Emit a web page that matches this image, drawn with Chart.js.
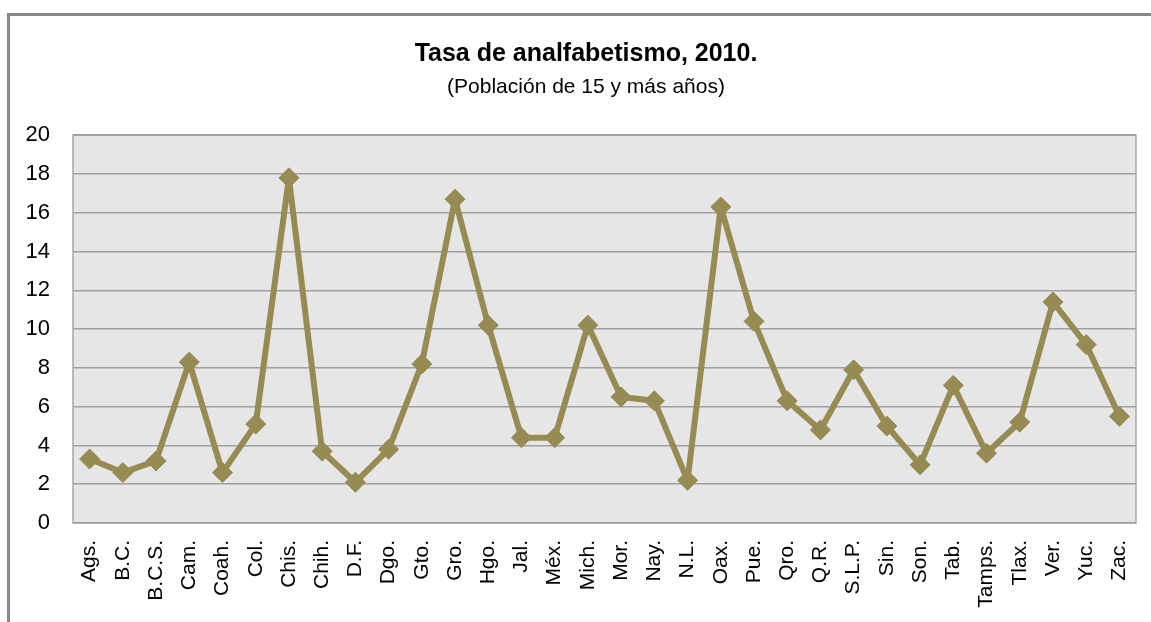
<!DOCTYPE html>
<html>
<head>
<meta charset="utf-8">
<script src="https://cdn.jsdelivr.net/npm/chart.js@4/dist/chart.umd.min.js"></script>
<style>
  html, body { margin: 0; padding: 0; background: #ffffff; }
  #wrap { position: relative; width: 1151px; height: 622px; overflow: hidden; }
  #frame { position: absolute; left: 7px; top: 13px; right: -10px; bottom: -10px;
           border-left: 3px solid #888888; border-top: 3px solid #888888; pointer-events: none; }
  canvas { position: absolute; left: 0; top: 0; }
</style>
</head>
<body>
<div id="wrap">
  <canvas id="c" width="1151" height="622"></canvas>
  <div id="frame"></div>
</div>
<script>
const titleText = 'Tasa de analfabetismo, 2010.';
const subtitleText = '(Población de 15 y más años)';
const categories = ['Ags.', 'B.C.', 'B.C.S.', 'Cam.', 'Coah.', 'Col.', 'Chis.', 'Chih.', 'D.F.', 'Dgo.',
  'Gto.', 'Gro.', 'Hgo.', 'Jal.', 'Méx.', 'Mich.', 'Mor.', 'Nay.', 'N.L.', 'Oax.', 'Pue.', 'Qro.',
  'Q.R.', 'S.L.P.', 'Sin.', 'Son.', 'Tab.', 'Tamps.', 'Tlax.', 'Ver.', 'Yuc.', 'Zac.'];
const tasa = [3.3, 2.6, 3.2, 8.3, 2.6, 5.1, 17.8, 3.7, 2.1, 3.8,
  8.2, 16.7, 10.2, 4.4, 4.4, 10.2, 6.5, 6.3, 2.2, 16.3, 10.4, 6.3,
  4.8, 7.9, 5.0, 3.0, 7.1, 3.6, 5.2, 11.4, 9.2, 5.5];
const yMin = 0, yMax = 20, yStep = 2;

const plotBg = {
  id: 'plotBg',
  afterLayout(chart) {
    // let the y tick labels use the free space left of the axis box
    chart.scales.y.left = 0;
  },
  beforeDraw(chart) {
    const { ctx, chartArea: a } = chart;
    ctx.save();
    ctx.fillStyle = '#E6E6E6';
    ctx.fillRect(a.left, a.top, a.right - a.left, a.bottom - a.top);
    ctx.strokeStyle = '#A8A8A8';
    ctx.lineWidth = 1.5;
    ctx.strokeRect(a.left, a.top, a.right - a.left, a.bottom - a.top);
    ctx.restore();
  }
};

const regular = "'Liberation Sans', Arial, sans-serif";

new Chart(document.getElementById('c'), {
  type: 'line',
  data: {
    labels: categories,
    datasets: [{
      data: tasa,
      borderColor: '#968B53',
      backgroundColor: '#968B53',
      borderWidth: 6,
      borderJoinStyle: 'round',
      pointStyle: 'rectRot',
      pointRadius: 10,
      pointBorderWidth: 1,
      pointBorderColor: '#968B53',
      pointBackgroundColor: '#968B53',
      tension: 0,
      fill: false
    }]
  },
  options: {
    responsive: false,
    animation: false,
    devicePixelRatio: 1,
    layout: { padding: { left: 36, right: 15, top: 0, bottom: 0 } },
    plugins: {
      legend: { display: false },
      tooltip: { enabled: false },
      title: {
        display: true, text: titleText, color: '#000000',
        font: { family: regular, size: 25, weight: 'bold' },
        padding: { top: 39, bottom: 0 }
      },
      subtitle: {
        display: true, text: subtitleText, color: '#000000',
        font: { family: regular, size: 21, weight: 'normal' },
        padding: { top: 6, bottom: 35 }
      }
    },
    scales: {
      x: {
        offset: true,
        grid: { display: false, drawTicks: false },
        border: { display: false },
        ticks: {
          color: '#000000', autoSkip: false, maxRotation: 90, minRotation: 90, padding: 17,
          font: { family: regular, size: 21 }
        },
        afterFit(scale) { scale.height = 99; scale.paddingLeft = 0; scale.paddingRight = 0; }
      },
      y: {
        min: yMin, max: yMax,
        grid: { color: '#A0A0A0', lineWidth: 1.5, drawTicks: false },
        border: { display: false },
        ticks: {
          stepSize: yStep, color: '#000000', padding: 23,
          font: { family: regular, size: 22 }
        },
        afterFit(scale) { scale.width = 37; scale.paddingTop = 0; scale.paddingBottom = 0; }
      }
    }
  },
  plugins: [plotBg]
});
</script>
</body>
</html>
